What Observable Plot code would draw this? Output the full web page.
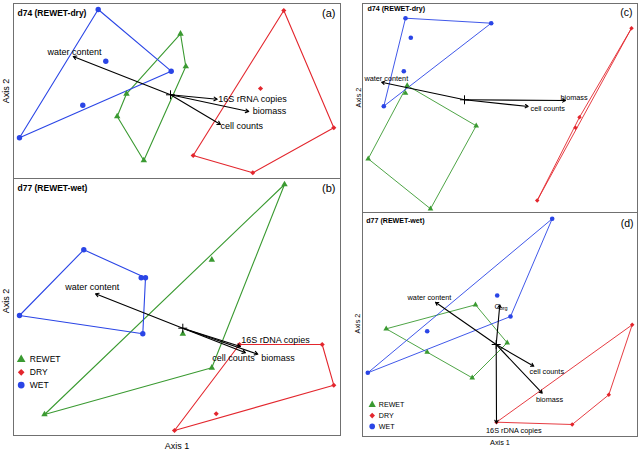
<!DOCTYPE html>
<html><head><meta charset="utf-8">
<script src="https://cdn.jsdelivr.net/npm/d3@7"></script>
<script src="https://cdn.jsdelivr.net/npm/@observablehq/plot@0.6"></script>
<style>
html,body{margin:0;padding:0;background:#fff;}
#wrap{position:relative;width:640px;height:451px;overflow:hidden;background:#fff;}
#wrap svg{position:absolute;overflow:visible;}
</style></head><body><div id="wrap"></div>
<script>
// ---------- DATA (ordination scores) ----------
const groups = ["REWET", "DRY", "WET"];

// Panel (a) d74 (REWET-dry)
const aRewet = [[167,144.7],[172.3,112],[130.3,18],[103.7,62],[113,84.7]];
const aDry   = [[270.3,168],[320.3,50.7],[239.3,5.7],[179.7,23],[247,90]];
const aWet   = [[84.7,169],[157.7,107.3],[6,40.7],[92.3,117.3],[69.3,73.3]];
const aVarNames = ["water content","16S rRNA copies","biomass","cell counts"];
const aVarEnds  = [[59.7,122],[203.7,79.3],[235.3,67],[207,54]];
const aOrigin = [157,83.7];
const aExtent = [[0,327],[0,175]];

// Panel (b) d77 (REWET-wet)
const bRewet = [[271,251],[198.3,175.7],[169.3,101.7],[198.3,67.7],[31,21]];
const bDry   = [[226,91],[308.7,91],[320.3,50.3],[161,5],[202.7,21.7]];
const bWet   = [[70.3,185.7],[127.7,157.7],[132,157.7],[129.3,101.7],[6,120]];
const bVarNames = ["water content","16S rDNA copies","cell counts","biomass"];
const bVarEnds  = [[82,141.7],[227,89],[232,82.7],[244.3,81.3]];
const bOrigin = [169.3,107.3];
const bExtent = [[0,327],[0,257]];

// Panel (c) d74 (REWET-dry)
const cRewet = [[44.7,127],[113.7,86.7],[68,3.7],[5.7,53.7],[43,119.3]];
const cDry   = [[269,184.3],[217,95.3],[213,84.7],[174.7,12]];
const cWet   = [[43,194.3],[128.7,189.3],[21.3,106.3],[48.3,174.7],[41.3,141.3]];
const cVarNames = ["water content","biomass","cell counts"];
const cVarEnds  = [[19,130.3],[203,112],[165.7,106]];
const cOrigin = [102,112.7];
const cExtent = [[0,275],[0,209]];

// Panel (d) d77 (REWET-wet)
const dRewet = [[113,131.7],[144.7,93.7],[109.7,58.7],[23.7,107.7],[64.7,84.3]];
const dDry   = [[269.7,111.7],[246.3,41.7],[209.7,12],[134,14.3]];
const dWet   = [[189.7,217.7],[148,120],[5.3,63.7],[134.7,141],[64.7,105.3]];
const dVarNames = ["water content","C|org","cell counts","biomass","16S rDNA copies"];
const dVarEnds  = [[73,134.3],[137.3,131.7],[171.3,70.3],[179.7,43.3],[134,13.3]];
const dOrigin = [133.7,92];
const dExtent = [[0,275],[0,224]];

// ---------- STYLE ----------
const colors  = {REWET:"#3a9a31", DRY:"#e3262d", WET:"#2a45e6"};
const symbols = {REWET:"triangle", DRY:"diamond2", WET:"circle"};
const FONT = "'Liberation Sans', Arial, Helvetica, sans-serif";

function panel(cfg) {
  const {sets, vars, ends, origin, extent, title, letter, st, box} = cfg;
  const rows = [];
  groups.forEach((g, i) => sets[i].forEach(([x, y]) => rows.push({group: g, x, y})));
  const vecs = vars.map((v, i) => ({name: v, x1: origin[0], y1: origin[1], x2: ends[i][0], y2: ends[i][1]}));
  const marks = [Plot.frame({stroke: "#707070", strokeWidth: 1})];
  groups.forEach(g => marks.push(Plot.hull(rows.filter(r => r.group === g), {x: "x", y: "y", stroke: colors[g], strokeWidth: st.lw})));
  groups.forEach(g => marks.push(Plot.dot(rows.filter(r => r.group === g), {x: "x", y: "y", symbol: symbols[g], fill: colors[g], r: st.r[g]})));
  marks.push(Plot.arrow(vecs, {x1: "x1", y1: "y1", x2: "x2", y2: "y2", stroke: "black", strokeWidth: 1.1, headLength: st.head}));
  marks.push(Plot.dot([origin], {x: d => d[0], y: d => d[1], symbol: "plus", stroke: "black", strokeWidth: 1, r: 3}));
  vecs.forEach((v, i) => {
    const o = st.labels[i];
    if (v.name.includes("|")) {
      const [main, sub] = v.name.split("|");
      marks.push(Plot.text([v], {x: "x2", y: "y2", text: () => main, dx: o[0], dy: o[1], textAnchor: "start", fontSize: st.fs, fill: "black"}));
      marks.push(Plot.text([v], {x: "x2", y: "y2", text: () => sub, dx: o[0] + st.fs * 0.72, dy: o[1] + 2, textAnchor: "start", fontSize: st.fs * 0.75, fill: "black"}));
    } else {
      marks.push(Plot.text([v], {x: "x2", y: "y2", text: "name", dx: o[0], dy: o[1], textAnchor: o[2], fontSize: st.fs, fill: "black"}));
    }
  });
  marks.push(Plot.text([title], {frameAnchor: "top-left", text: d => d, dx: st.title[0], dy: st.title[1], textAnchor: "start", lineAnchor: "middle", fontWeight: "bold", fontSize: st.tfs, fill: "black"}));
  marks.push(Plot.text([letter], {frameAnchor: "top-right", text: d => d, dx: st.letter[0], dy: st.letter[1], textAnchor: "end", lineAnchor: "middle", fontSize: st.lfs, fill: "black"}));
  marks.push(Plot.text(["Axis 2"], {frameAnchor: "left", text: d => d, dx: st.ax2[0], dy: st.ax2[1], rotate: -90, textAnchor: "middle", lineAnchor: "middle", fontSize: st.afs, fill: "black"}));
  if (st.ax1) marks.push(Plot.text(["Axis 1"], {frameAnchor: "bottom", text: d => d, dx: st.ax1[0], dy: st.ax1[1], textAnchor: "middle", lineAnchor: "middle", fontSize: st.afs, fill: "black"}));
  if (st.legend) {
    const L = st.legend;
    groups.forEach((g, i) => {
      marks.push(Plot.dot([g], {frameAnchor: "bottom-left", dx: L.sx, dy: L.y0 + i * L.step, symbol: symbols[g], fill: colors[g], r: L.r[g]}));
      marks.push(Plot.text([g], {frameAnchor: "bottom-left", text: d => d, dx: L.tx, dy: L.y0 + i * L.step, textAnchor: "start", lineAnchor: "middle", fontSize: L.fs, fill: "black"}));
    });
  }
  const svg = Plot.plot({
    width: box.w, height: box.h,
    marginLeft: box.ml, marginRight: box.mr, marginTop: box.mt, marginBottom: box.mb,
    x: {domain: extent[0], axis: null},
    y: {domain: extent[1], axis: null},
    style: {fontFamily: FONT, background: "transparent", overflow: "visible"},
    marks
  });
  svg.style.left = box.left + "px";
  svg.style.top = box.top + "px";
  document.getElementById("wrap").appendChild(svg);
}

const bigR = {REWET: 2.4, DRY: 2.3, WET: 2.7};
const smallR = {REWET: 2.1, DRY: 2.0, WET: 2.3};

panel({
  sets: [aRewet, aDry, aWet], vars: aVarNames, ends: aVarEnds, origin: aOrigin, extent: aExtent,
  title: "d74 (REWET-dry)", letter: "(a)",
  box: {left: 0, top: 0, w: 345, h: 178, ml: 13, mr: 5, mt: 3, mb: 0},
  st: {lw: 1.1, r: bigR, head: 5, fs: 9, tfs: 8.5, lfs: 11, afs: 9,
       labels: [[1.3, -4.5, "middle"], [1, 0, "start"], [4, 0, "start"], [0, 2, "start"]],
       title: [4, 9.7], letter: [-5, 9.7], ax2: [-7, 0]}
});
panel({
  sets: [bRewet, bDry, bWet], vars: bVarNames, ends: bVarEnds, origin: bOrigin, extent: bExtent,
  title: "d77 (REWET-wet)", letter: "(b)",
  box: {left: 0, top: 178, w: 345, h: 273, ml: 13, mr: 5, mt: 0, mb: 16},
  st: {lw: 1.1, r: bigR, head: 5, fs: 9, tfs: 8.5, lfs: 11, afs: 9,
       labels: [[-3.3, -6.6, "middle"], [0.7, -6, "start"], [-12, 5, "middle"], [3.4, 3.6, "start"]],
       title: [4, 9.3], letter: [-5, 10], ax2: [-7, -6], ax1: [0, 11],
       legend: {sx: 7.7, tx: 16.3, y0: -76, step: 12.8, fs: 8.5, r: {REWET: 3.2, DRY: 3.0, WET: 3.4}}}
});
panel({
  sets: [cRewet, cDry, cWet], vars: cVarNames, ends: cVarEnds, origin: cOrigin, extent: cExtent,
  title: "d74 (REWET-dry)", letter: "(c)",
  box: {left: 345, top: 0, w: 295, h: 212, ml: 17, mr: 3, mt: 3, mb: 0},
  st: {lw: 0.9, r: smallR, head: 4.5, fs: 7.3, tfs: 7.1, lfs: 10.5, afs: 7.3,
       labels: [[4.8, -3.4, "middle"], [-5, -3.3, "start"], [2.3, 1.7, "start"]],
       title: [5, 5.3], letter: [-5, 9.3], ax2: [-4, -10.5]}
});
panel({
  sets: [dRewet, dDry, dWet], vars: dVarNames, ends: dVarEnds, origin: dOrigin, extent: dExtent,
  title: "d77 (REWET-wet)", letter: "(d)",
  box: {left: 345, top: 212, w: 295, h: 239, ml: 17, mr: 3, mt: 0, mb: 15},
  st: {lw: 0.9, r: smallR, head: 4.5, fs: 7.3, tfs: 7.1, lfs: 10.5, afs: 7.3,
       labels: [[-6, -5, "middle"], [-5.3, 1.7, "start"], [13, 5, "middle"], [7.3, 6.3, "middle"], [17.3, 7.3, "middle"]],
       title: [3.7, 8.7], letter: [-4, 10.7], ax2: [-5, -1], ax1: [0, 6],
       legend: {sx: 9.7, tx: 16.3, y0: -31.7, step: 10.8, fs: 7.1, r: {REWET: 2.7, DRY: 2.5, WET: 2.8}}}
});
</script></body></html>
